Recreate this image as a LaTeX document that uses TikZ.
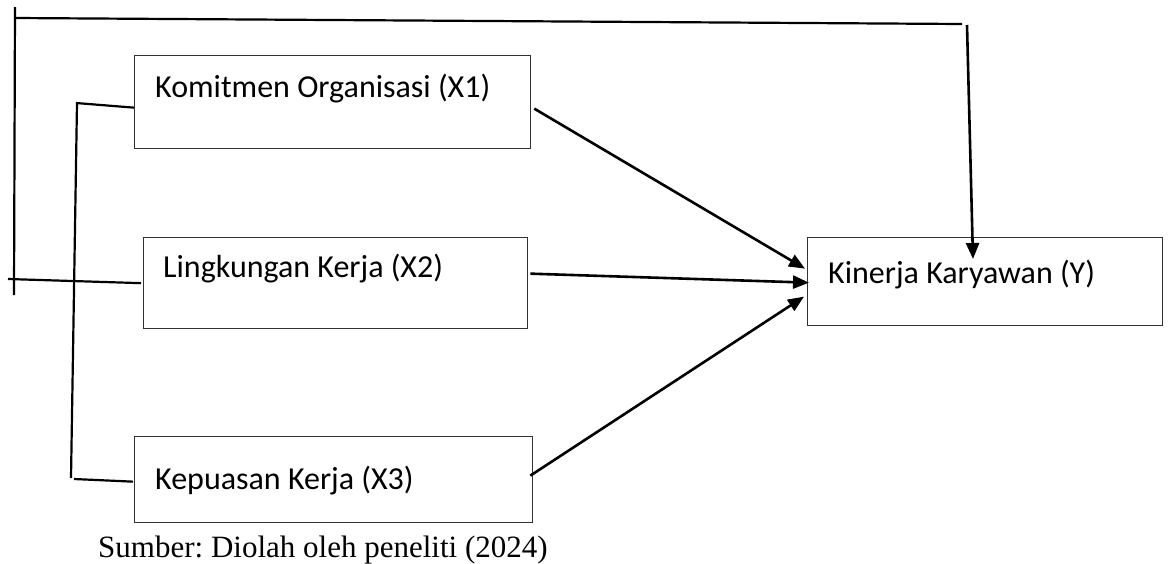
\documentclass[tikz,border=0pt]{standalone}
\usepackage{fontspec}
\setmainfont{Liberation Serif}
\newfontfamily\kotakfont{Carlito}
\usetikzlibrary{arrows.meta}
\frenchspacing

\begin{document}
\begin{tikzpicture}[x=1pt,y=-1pt,
    kotak/.style={draw=black!80,line width=1.3pt,anchor=north west,inner sep=0pt},
    teks/.style={anchor=base west,inner sep=0pt,font=\kotakfont\fontsize{32}{38}\selectfont},
    garis/.style={line width=2.2pt},
    panah/.style={line width=2.6pt,-{Triangle[length=16pt,width=13pt]}}]
    \useasboundingbox (0,0) rectangle (1168,563);

    % Kotak variabel
    \node[kotak,minimum width=396pt,minimum height=93pt] (x1) at (134,55) {};
    \node[kotak,minimum width=384pt,minimum height=91pt] (x2) at (143,237) {};
    \node[kotak,minimum width=398pt,minimum height=86pt] (x3) at (134,436) {};
    \node[kotak,minimum width=355pt,minimum height=88pt] (y) at (807,237) {};

    % Label
    \node[teks] (x1t) at ([shift={(21,42)}]x1.north west) {Komitmen Organisasi (X1)};
    \node[teks] (x2t) at ([shift={(20,40)}]x2.north west) {Lingkungan Kerja (X2)};
    \node[teks] (x3t) at ([shift={(21,53)}]x3.north west) {Kepuasan Kerja (X3)};
    \node[teks] (yt) at ([shift={(21,46)}]y.north west) {Kinerja Karyawan (Y)};

    % Sumber
    \node[anchor=base west,inner sep=0pt,font=\fontsize{31}{37}\selectfont] (sumber) at (98,557) {Sumber: Diolah oleh peneliti (2024)};

    % Garis bingkai
    \coordinate (kiriA) at (15,7);
    \coordinate (kiriB) at (14,295);
    \coordinate (atasA) at (15,18);
    \coordinate (atasB) at (962,24);
    \coordinate (turun) at (967,25);
    \coordinate (tengah) at (8,279);
    \draw[garis] (kiriA) -- (kiriB);
    \draw[garis] (atasA) -- (atasB);
    \draw[panah] (turun) -- ([shift={(166,22)}]y.north west);
    \draw[garis] (tengah) -- ([xshift=-2pt]x2.west);

    % Kurung X1 - X3
    \coordinate (kurungA) at (76,103);
    \coordinate (kurungB) at (77,103);
    \coordinate (kurungC) at (71,478);
    \coordinate (kurungD) at (74,479);
    \draw[garis] (kurungA) -- ([shift={(0,5.5)}]x1.west);
    \draw[garis] (kurungB) -- (kurungC);
    \draw[garis] (kurungD) -- ([shift={(-1,2)}]x3.west);

    % Panah ke Y
    \draw[panah] ([shift={(3,6.5)}]x1.east) -- ([shift={(-2,-13)}]y.west);
    \draw[panah] ([shift={(2,-9.5)}]x2.east) -- ([shift={(2,1)}]y.west);
    \draw[panah] ([shift={(-3,-4)}]x3.east) -- ([shift={(-3,15)}]y.west);
\end{tikzpicture}
\end{document}
